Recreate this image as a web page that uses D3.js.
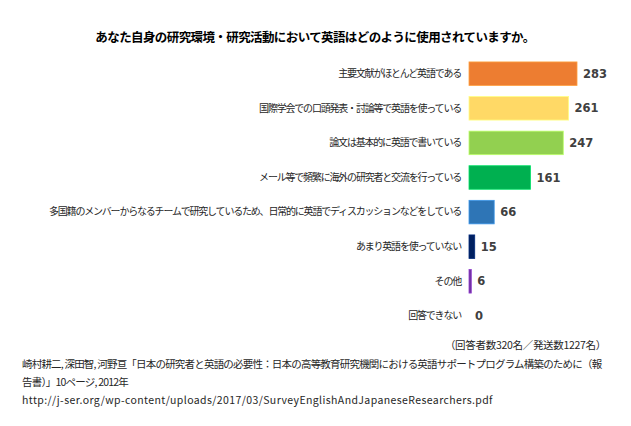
<!DOCTYPE html>
<html>
<head>
<meta charset="utf-8">
<script src="https://cdn.jsdelivr.net/npm/d3@7"></script>
<style>
  body { margin: 0; background: #fff; }
  svg { display: block; }
</style>
</head>
<body>
<div class="chart"></div>
<script>
// data
var categories = [
    '主要文献がほとんど英語である',
    '国際学会での口頭発表・討論等で英語を使っている',
    '論文は基本的に英語で書いている',
    'メール等で頻繁に海外の研究者と交流を行っている',
    '多国籍のメンバーからなるチームで研究しているため、日常的に英語でディスカッションなどをしている',
    'あまり英語を使っていない',
    'その他',
    '回答できない'
];
var values = [283, 261, 247, 161, 66, 15, 6, 0];
var barColors = ['#ED7D31', '#FFD966', '#92D050', '#00B050', '#2E75B6', '#002060', '#7030A0', '#A5A5A5'];

var title = 'あなた自身の研究環境・研究活動において英語はどのように使用されていますか。';
var note = '（回答者数320名／発送数1227名）';
var sourceLines = [
    '崎村耕二, 深田智, 河野亘「日本の研究者と英語の必要性：日本の高等教育研究機関における英語サポートプログラム構築のために（報',
    '告書）」10ページ, 2012年',
    'http://j-ser.org/wp-content/uploads/2017/03/SurveyEnglishAndJapaneseResearchers.pdf'
];

var width = 631, height = 426;
var jp = '"Noto Sans CJK JP", "Noto Sans", sans-serif';

var svg = d3.select('.chart').append('svg')
    .attr('width', width)
    .attr('height', height);

var xScale = d3.scaleLinear()
    .domain([0, 300])
    .range([469, 583.5]);

var yScale = d3.scaleBand()
    .domain(categories)
    .range([56.4, 333.2])
    .paddingInner(0.32)
    .paddingOuter(0.16);

var color = d3.scaleOrdinal()
    .domain(categories)
    .range(barColors);

// title
svg.append('text')
    .attr('x', 315)
    .attr('y', 42)
    .attr('text-anchor', 'middle')
    .style('font-family', jp)
    .style('font-size', '12.5px')
    .style('letter-spacing', '-0.6px')
    .style('font-weight', 'bold')
    .style('fill', '#000')
    .text(title);

// category labels (no axis line in the original)
var yAxis = svg.append('g')
    .attr('transform', 'translate(' + xScale(0) + ',0)')
    .call(d3.axisLeft(yScale).tickSize(0).tickPadding(8));
yAxis.select('.domain').remove();
yAxis.selectAll('text')
    .style('font-family', jp)
    .style('font-size', '10px')
    .style('letter-spacing', '-1.2px')
    .style('fill', '#262626');

var rows = categories.map(function (c, i) { return { name: c, value: values[i] }; });

svg.selectAll('.bar')
    .data(rows)
    .enter().append('rect')
    .attr('class', 'bar')
    .attr('x', xScale(0))
    .attr('y', function (d) { return yScale(d.name); })
    .attr('width', function (d) { return xScale(d.value) - xScale(0); })
    .attr('height', yScale.bandwidth())
    .attr('fill', function (d) { return color(d.name); })
    .attr('stroke', function (d) { return d.value > 0 ? d3.color(color(d.name)).brighter(0.7) : 'none'; })
    .attr('stroke-width', 0.8);

svg.selectAll('.value')
    .data(rows)
    .enter().append('text')
    .attr('class', 'value')
    .attr('x', function (d) { return xScale(d.value) + 6; })
    .attr('y', function (d) { return yScale(d.name) + yScale.bandwidth() / 2; })
    .attr('dy', '0.36em')
    .style('font-family', '"DejaVu Sans", Verdana, sans-serif')
    .style('font-size', '11.5px')
    .style('font-weight', 'bold')
    .style('fill', '#404040')
    .text(function (d) { return d.value; });

// respondent note
svg.append('text')
    .attr('x', 606)
    .attr('y', 349)
    .attr('text-anchor', 'end')
    .style('font-family', jp)
    .style('font-size', '10.5px')
    .style('letter-spacing', '-0.3px')
    .style('fill', '#262626')
    .text(note);

// source
svg.selectAll('.source')
    .data(sourceLines)
    .enter().append('text')
    .attr('class', 'source')
    .attr('x', 22)
    .attr('y', function (d, i) { return 368 + i * 18; })
    .style('font-family', jp)
    .style('font-size', '10.5px')
    .style('letter-spacing', function (d, i) { return i === 2 ? '0.4px' : '-0.8px'; })
    .style('fill', '#262626')
    .text(function (d) { return d; });
</script>
</body>
</html>
